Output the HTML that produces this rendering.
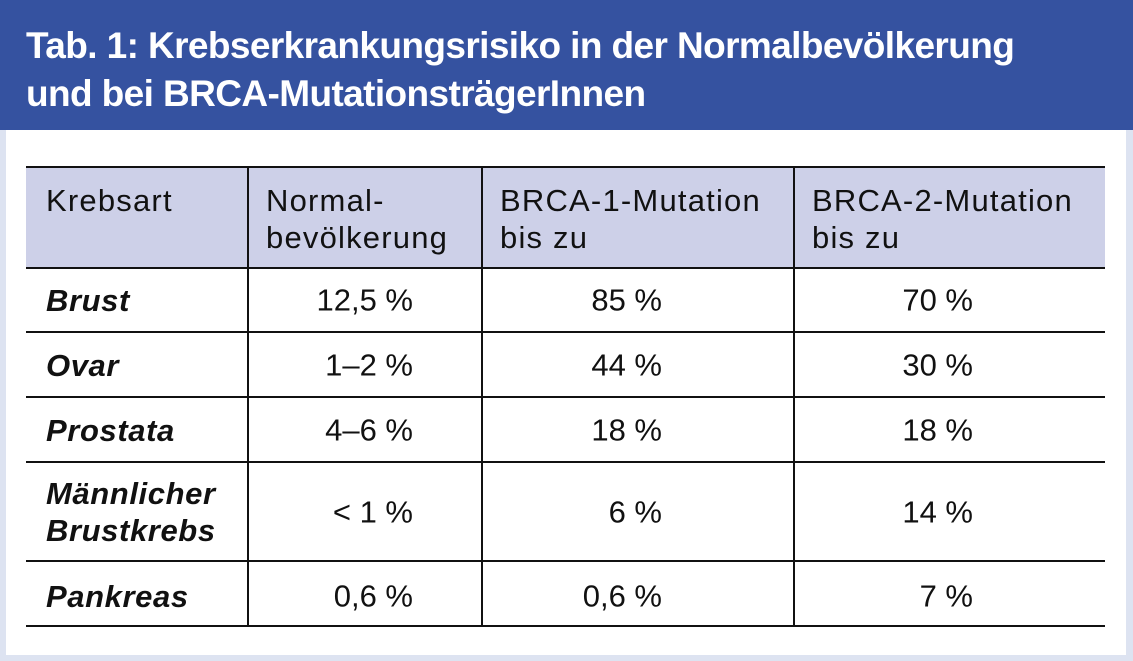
<!DOCTYPE html>
<html><head><meta charset="utf-8"><style>
body{margin:0;width:1133px;height:661px;background:#dde3f1;position:relative;overflow:hidden;font-family:"Liberation Sans",sans-serif;}
#title{position:absolute;left:0;top:0;width:1133px;height:130px;background:#3552a0;color:#fff;font-weight:bold;font-size:37px;line-height:48px;box-sizing:border-box;padding:22px 0 0 26px;letter-spacing:-0.6px;white-space:nowrap}
#panel{position:absolute;left:6px;top:130px;width:1120px;height:525px;background:#fff}
.hdr{position:absolute;left:26px;top:166px;width:1079px;height:101px;background:#cdd0e8}
.h{position:absolute;height:1.5px;background:#111;left:26px;width:1079px}
.v{position:absolute;width:1.5px;background:#111;top:166px;height:459px}
.t{position:absolute;font-size:31px;color:#111;line-height:37px;white-space:nowrap}
.hd{letter-spacing:1.2px}
.lab{font-weight:bold;font-style:italic;font-size:31px;letter-spacing:0.6px}
.val{text-align:right;transform:translateY(-50%)}
</style></head><body>
<div id="title">Tab. 1: Krebserkrankungsrisiko in der Normalbevölkerung<br>und bei BRCA-MutationsträgerInnen</div>
<div id="panel"></div>
<div class="hdr"></div>
<div class="h" style="top:166px"></div>
<div class="h" style="top:267px"></div>
<div class="h" style="top:331px"></div>
<div class="h" style="top:396px"></div>
<div class="h" style="top:461px"></div>
<div class="h" style="top:560px"></div>
<div class="h" style="top:625px"></div>
<div class="v" style="left:247px"></div>
<div class="v" style="left:481px"></div>
<div class="v" style="left:793px"></div>

<div class="t hd" style="left:46px;top:182px">Krebsart</div>
<div class="t hd" style="left:266px;top:182px">Normal-<br>bevölkerung</div>
<div class="t hd" style="left:500px;top:182px">BRCA-1-Mutation<br>bis zu</div>
<div class="t hd" style="left:812px;top:182px">BRCA-2-Mutation<br>bis zu</div>

<div id="rows"></div>
<script>
const labels=[["Brust"],["Ovar"],["Prostata"],["Männlicher","Brustkrebs"],["Pankreas"]];
const normal=["12,5 %","1–2 %","4–6 %","< 1 %","0,6 %"];
const brca1=["85 %","44 %","18 %","6 %","0,6 %"];
const brca2=["70 %","30 %","18 %","14 %","7 %"];
const rowCenters=[300,365,430,512,596];
const rightEdges=[413,662,973];
const root=document.getElementById('rows');
labels.forEach((lab,i)=>{
  const d=document.createElement('div');
  d.className='t lab';
  
  
  d.style.left='46px';
  d.style.top=(rowCenters[i]-lab.length*18.5)+'px';
  d.innerHTML=lab.join('<br>');
  root.appendChild(d);
  [normal,brca1,brca2].forEach((arr,j)=>{
    const c=document.createElement('div');
    c.className='t val';
    
    
    c.style.right=(1133-rightEdges[j])+'px';
    c.style.top=rowCenters[i]+'px';
    c.textContent=arr[i];
    root.appendChild(c);
  });
});
</script>
</body></html>
